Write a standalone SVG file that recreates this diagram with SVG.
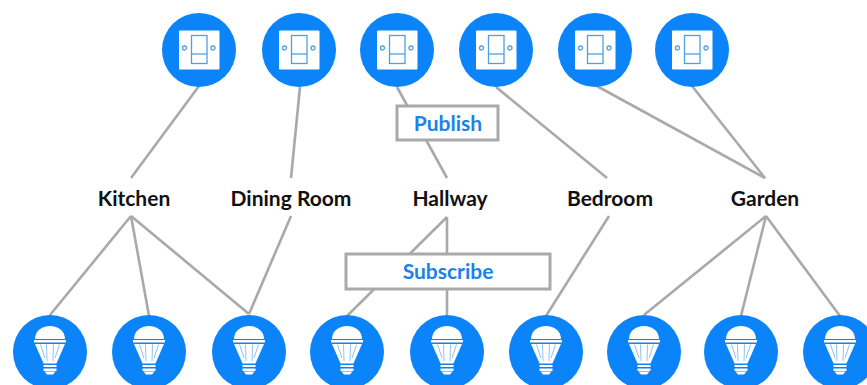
<svg xmlns="http://www.w3.org/2000/svg" width="867" height="385" viewBox="0 0 867 385">
<style>
.c{fill:#0a84f8}
.l{stroke:#a9a9a9;stroke-width:2.6;fill:none}
.t{font-family:"Lato","Liberation Sans",sans-serif;font-weight:700;font-size:21px;text-anchor:middle;fill:#111}
.a{font-family:"Lato","Liberation Sans",sans-serif;font-weight:700;font-size:21px;text-anchor:middle;fill:#1a82ea}
.b{fill:#fff;stroke:#a9a9a9;stroke-width:3}
.s{fill:none;stroke:#4f9fe8;stroke-width:1.300}
</style>
<defs>
<g id="sw">
<circle class="c" r="37"/>
<rect x="-20" y="-19.500" width="40.500" height="39" rx="1" fill="#fff"/>
<rect x="-7.500" y="-14.500" width="15.500" height="28" class="s"/>
<path d="M-7.500 4H8" class="s"/>
<circle cx="-14.500" cy="-2" r="2" class="s"/>
<circle cx="14" cy="-2" r="2" class="s"/>
</g>
<g id="bu">
<circle class="c" r="37"/>
<path d="M-15 -13C-15 -21 -8 -26 0 -26C8 -26 15 -21 15 -13Z" fill="#fff"/>
<rect x="-16" y="-12" width="32" height="2.500" fill="#fff"/>
<path d="M-15 -8H15L8 8L6.500 11.500H-6.500L-8 8Z" fill="#fff"/>
<path d="M-9.500 -7.500L-5 6M9.500 -7.500L5 6M-3.500 -7.500L-3 9M3.500 -7.500L3 9" stroke="#8cc4f8" stroke-width="1" fill="none"/>
<path d="M-6.500 13H6.500V15H-6.500ZM-6.500 16.500H6.500V19H-6.500ZM-5.500 19.500H5.500L3 22.500H-3Z" fill="#fff"/>
</g>
</defs>
<g id="connectors">
<path class="l" d="M199 86L131 178"/>
<path class="l" d="M300 87L291 178"/>
<path class="l" d="M397 87L447 178"/>
<path class="l" d="M496 87L607 178"/>
<path class="l" d="M595 85L765 178"/>
<path class="l" d="M692 86L765 178"/>
<path class="l" d="M131 216L50 315M131 216L149 316M131 216L249 314"/>
<path class="l" d="M291 216L249 314"/>
<path class="l" d="M447 217L347 316M447 217V316"/>
<path class="l" d="M609 216L546 316"/>
<path class="l" d="M766 216L644 315M766 216L741 316M766 216L840 316"/>
</g>
<g id="switch-1"><use href="#sw" x="199" y="50"/></g>
<g id="switch-2"><use href="#sw" x="299" y="50"/></g>
<g id="switch-3"><use href="#sw" x="397" y="50"/></g>
<g id="switch-4"><use href="#sw" x="496" y="50"/></g>
<g id="switch-5"><use href="#sw" x="595" y="50"/></g>
<g id="switch-6"><use href="#sw" x="692" y="50"/></g>
<g id="bulb-1"><use href="#bu" x="50" y="352"/></g>
<g id="bulb-2"><use href="#bu" x="149" y="352"/></g>
<g id="bulb-3"><use href="#bu" x="249" y="352"/></g>
<g id="bulb-4"><use href="#bu" x="347" y="352"/></g>
<g id="bulb-5"><use href="#bu" x="447" y="352"/></g>
<g id="bulb-6"><use href="#bu" x="546" y="352"/></g>
<g id="bulb-7"><use href="#bu" x="644" y="352"/></g>
<g id="bulb-8"><use href="#bu" x="741" y="352"/></g>
<g id="bulb-9"><use href="#bu" x="840" y="352"/></g>
<g id="kitchen"><text class="t" x="134" y="206">Kitchen</text></g>
<g id="dining-room"><text class="t" x="291" y="206">Dining Room</text></g>
<g id="hallway"><text class="t" x="450" y="206">Hallway</text></g>
<g id="bedroom"><text class="t" x="610" y="206">Bedroom</text></g>
<g id="garden"><text class="t" x="765" y="206">Garden</text></g>
<g id="publish"><rect class="b" x="397" y="106" width="101" height="34"/><text class="a" x="448" y="131">Publish</text></g>
<g id="subscribe"><rect class="b" x="346" y="254" width="204" height="35"/><text class="a" x="448" y="279">Subscribe</text></g>
</svg>
